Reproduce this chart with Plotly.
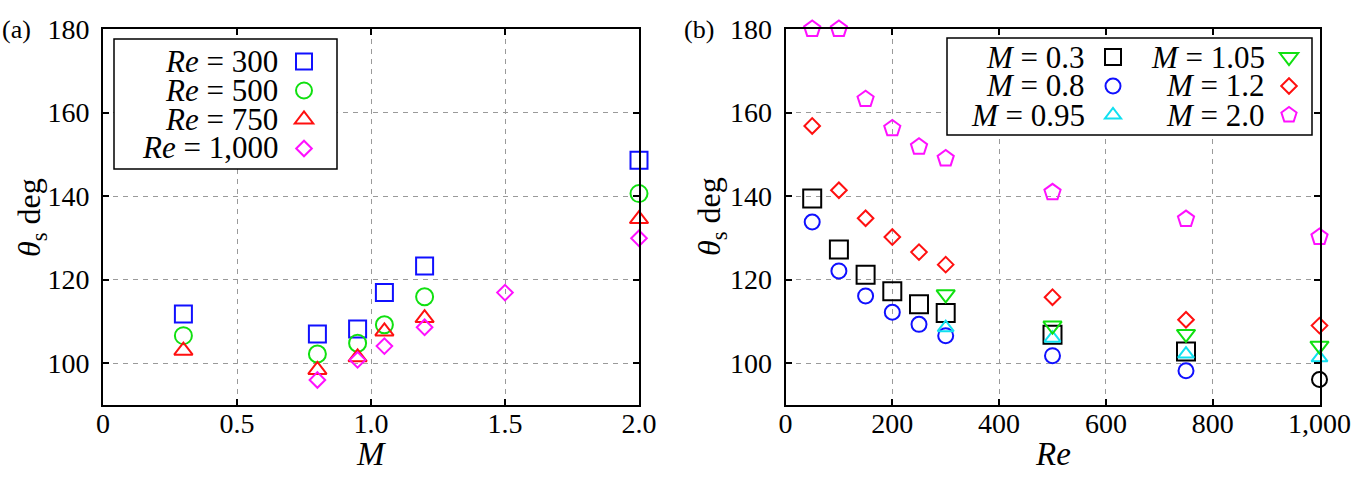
import plotly.graph_objects as go

W, H = 1354, 478
FONT = "Liberation Serif, Times New Roman, Times, serif"

# ---------------- panel (a): theta_s vs M ----------------
mach_a = [0.3, 0.8, 0.95, 1.05, 1.2, 2.0]
theta_re300 = [111.8, 107.0, 108.2, 116.9, 123.3, 148.6]
theta_re500 = [106.6, 102.2, 104.8, 109.2, 115.9, 140.6]
theta_re750 = [103.0, 98.4, 101.4, 107.6, 110.8, 134.5]
mach_re1000 = [0.8, 0.95, 1.05, 1.2, 1.5, 2.0]
theta_re1000 = [96.0, 100.8, 104.1, 108.6, 116.9, 129.9]

legend_a_labels = ["<i>Re</i> = 300", "<i>Re</i> = 500", "<i>Re</i> = 750", "<i>Re</i> = 1,000"]

xa_tickvals = [0, 0.5, 1.0, 1.5, 2.0]
xa_ticktext = ["0", "0.5", "1.0", "1.5", "2.0"]

# ---------------- panel (b): theta_s vs Re ----------------
re_all = [50, 100, 150, 200, 250, 300, 500, 750, 1000]
theta_m03 = [139.4, 127.2, 121.2, 117.2, 114.1, 112.0, 106.8, 102.8]
re_m03 = [50, 100, 150, 200, 250, 300, 500, 750]
theta_m08 = [133.8, 122.1, 116.1, 112.2, 109.3, 106.6, 101.8, 98.2, 96.1]
re_high = [300, 500, 750, 1000]
theta_m095 = [108.5, 106.0, 102.2, 101.3]
theta_m105 = [116.5, 109.0, 107.0, 104.2]
theta_m12 = [156.8, 141.4, 134.7, 130.2, 126.6, 123.6, 115.8, 110.4, 109.0]
theta_m20 = [180.0, 180.0, 163.2, 156.2, 151.8, 149.0, 140.9, 134.5, 130.2]

legend_b1_labels = ["<i>M</i> = 0.3", "<i>M</i> = 0.8", "<i>M</i> = 0.95"]
legend_b2_labels = ["<i>M</i> = 1.05", "<i>M</i> = 1.2", "<i>M</i> = 2.0"]

xb_tickvals = [0, 200, 400, 600, 800, 1000]
xb_ticktext = ["0", "200", "400", "600", "800", "1,000"]

y_tickvals = [100, 120, 140, 160, 180]
y_ticktext = ["100", "120", "140", "160", "180"]

BLUE = "#1010ff"
GREEN = "#10e010"
RED = "#ff1010"
MAGENTA = "#ff10ff"
CYAN = "#10e0f0"
BLACK = "#000000"


def px(x):
    return x / W


def py(y):
    return 1 - y / H


fig = go.Figure()


def add(x, y, symbol, color, size, xaxis, yaxis, legend):
    fig.add_trace(go.Scatter(
        x=x, y=y, mode="markers", name="", xaxis=xaxis, yaxis=yaxis,
        legend=legend, cliponaxis=False,
        marker=dict(symbol=symbol, size=size, color=color,
                    line=dict(width=2, color=color)),
    ))


# panel (a)
add(mach_a, theta_re300, "square-open", BLUE, 17, "x", "y", "legend")
add(mach_a, theta_re500, "circle-open", GREEN, 17, "x", "y", "legend")
add(mach_a, theta_re750, "triangle-up-open", RED, 16, "x", "y", "legend")
add(mach_re1000, theta_re1000, "diamond-open", MAGENTA, 12, "x", "y", "legend")

# panel (b) column 1
add(re_m03, theta_m03, "square-open", BLACK, 18, "x2", "y2", "legend2")
m08_colors = [BLUE] * 8 + [BLACK]
fig.add_trace(go.Scatter(
    x=re_all, y=theta_m08, mode="markers", name="", xaxis="x2", yaxis="y2",
    legend="legend2", cliponaxis=False,
    marker=dict(symbol="circle-open", size=15, color=m08_colors,
                line=dict(width=2, color=m08_colors)),
))
add(re_high, theta_m095, "triangle-up-open", CYAN, 14, "x2", "y2", "legend2")
# panel (b) column 2
add(re_high, theta_m105, "triangle-down-open", GREEN, 16, "x2", "y2", "legend3")
add(re_all, theta_m12, "diamond-open", RED, 12, "x2", "y2", "legend3")
add(re_all, theta_m20, "pentagon-open", MAGENTA, 17, "x2", "y2", "legend3")

axis_common = dict(
    showline=True, linecolor="black", linewidth=2, mirror="ticks",
    ticks="inside", ticklen=6, tickwidth=1.5, tickcolor="black",
    showgrid=True, gridcolor="#9a9a9a", griddash="5px,5px", gridwidth=1,
    zeroline=False, tickfont=dict(family=FONT, size=28, color="black"),
    automargin=False,
)

# frame positions (pixels)
A_L, A_R = 103, 639
B_L, B_R = 785.5, 1319.5
TOP, BOT = 29, 405

fig.update_layout(
    width=W, height=H,
    margin=dict(l=0, r=0, t=0, b=0),
    paper_bgcolor="white", plot_bgcolor="white",
    font=dict(family=FONT, color="black"),
    xaxis=dict(domain=[px(A_L), px(A_R)], range=[0, 2.0], tickvals=xa_tickvals,
               ticktext=xa_ticktext, anchor="y", ticklabelstandoff=-8, **axis_common),
    yaxis=dict(domain=[py(BOT), py(TOP)], range=[90, 180], tickvals=y_tickvals,
               ticktext=y_ticktext, anchor="x", ticklabelstandoff=6, **axis_common),
    xaxis2=dict(domain=[px(B_L), px(B_R)], range=[0, 1000], tickvals=xb_tickvals,
                ticktext=xb_ticktext, anchor="y2", ticklabelstandoff=-8, **axis_common),
    yaxis2=dict(domain=[py(BOT), py(TOP)], range=[90, 180], tickvals=y_tickvals,
                ticktext=y_ticktext, anchor="x2", ticklabelstandoff=6, **axis_common),
)

legend_common = dict(font=dict(family=FONT, size=20), bgcolor="rgba(0,0,0,0)",
                     borderwidth=0, xanchor="left", yanchor="top",
                     tracegroupgap=0, itemwidth=30, orientation="v")
fig.update_layout(
    legend=dict(x=px(304 - 20), y=py(61.5 - 19.5), **legend_common),
    legend2=dict(x=px(1113 - 20), y=py(57 - 19.5), **legend_common),
    legend3=dict(x=px(1289 - 20), y=py(57 - 19.5), **legend_common),
)

# legend boxes
fig.add_shape(type="rect", xref="paper", yref="paper", x0=px(114), x1=px(337),
              y0=py(169), y1=py(39), fillcolor="white",
              line=dict(color="black", width=1.5), layer="above")
fig.add_shape(type="rect", xref="paper", yref="paper", x0=px(947), x1=px(1312),
              y0=py(135), y1=py(38), fillcolor="white",
              line=dict(color="black", width=1.5), layer="above")

annots = []


def note(text, x, y, size, xanchor="center", yanchor="middle", angle=0):
    annots.append(dict(text=text, x=px(x), y=py(y), xref="paper", yref="paper",
                       showarrow=False, xanchor=xanchor, yanchor=yanchor,
                       textangle=angle, font=dict(family=FONT, size=size, color="black")))


# legend labels
for i, t in enumerate(legend_a_labels):
    note(t, 280, 61.5 + i * 28.8, 31, xanchor="right")
for i, t in enumerate(legend_b1_labels):
    note(t, 1087, 57 + i * 29, 31, xanchor="right")
for i, t in enumerate(legend_b2_labels):
    note(t, 1267, 57 + i * 29, 31, xanchor="right")

# panel labels
note("(a)", 0, 29, 26, xanchor="left")
note("(b)", 682, 29, 26, xanchor="left")
# axis titles
note("<i>M</i>", (A_L + A_R) / 2, 454, 33)
note("<i>Re</i>", (B_L + B_R) / 2, 454, 33)
note("<i>θ</i><sub>s</sub> deg", 31, 217, 32, angle=-90)
note("<i>θ</i><sub>s</sub> deg", 711, 217, 32, angle=-90)

fig.update_layout(annotations=annots)

fig.write_html("out.html")
